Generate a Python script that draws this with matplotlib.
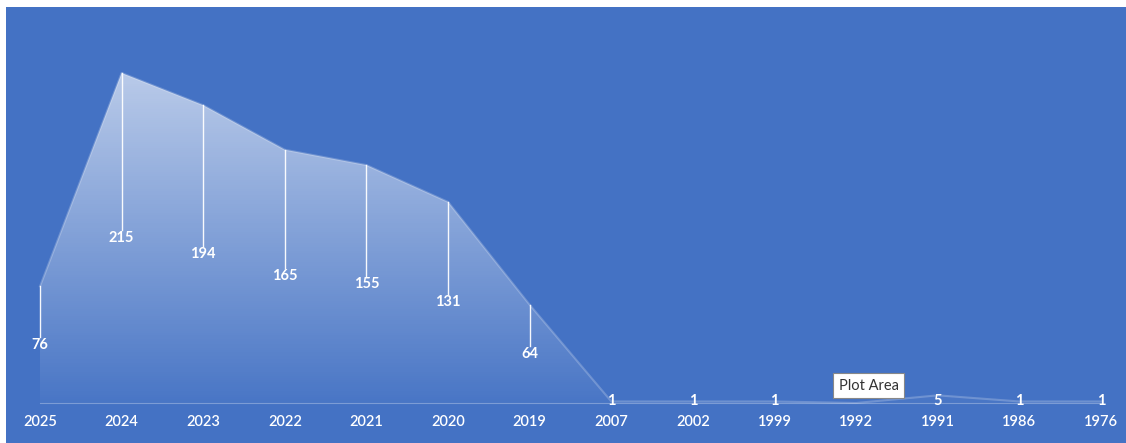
import numpy as np
import matplotlib
matplotlib.use("Agg")
import matplotlib.pyplot as plt
from matplotlib.patches import Polygon

categories = ["2025", "2024", "2023", "2022", "2021", "2020", "2019",
              "2007", "2002", "1999", "1992", "1991", "1986", "1976"]
values = [76, 215, 194, 165, 155, 131, 64, 1, 1, 1, 0, 5, 1, 1]
labels = ["76", "215", "194", "165", "155", "131", "64", "1", "1", "1", "", "5", "1", "1"]

BG = "#4472C4"
W, H = 1126, 443
fig = plt.figure(figsize=(W / 100, H / 100), dpi=100)
fig.patch.set_facecolor("white")

x0, y0 = 6, 7
ax = fig.add_axes([x0 / W, 0, 1 - x0 / W, 1 - y0 / H])
ax.set_facecolor(BG)
for s in ax.spines.values():
    s.set_visible(False)
ax.set_xticks([])
ax.set_yticks([])

n = len(categories)
x = np.arange(n)
first_px, last_px, base_px, top_px = 40, 1101, 403, 73
step = (last_px - first_px) / (n - 1)
ppu = (base_px - top_px) / max(values)

vals = np.array(values, dtype=float)

# gradient fill clipped to area polygon
ymax = vals.max()
grad = np.linspace(0.0, 1.0, 256)
rgba = np.zeros((256, 1, 4))
rgba[..., :3] = 1.0
rgba[:, 0, 3] = 0.03 + 0.60 * grad
im = ax.imshow(rgba, extent=[x[0], x[-1], 0, ymax], origin="lower",
               aspect="auto", interpolation="bicubic", zorder=1)
poly_pts = np.vstack([np.column_stack([x, vals]),
                      [[x[-1], 0], [x[0], 0]]])
poly = Polygon(poly_pts, closed=True, facecolor="none", edgecolor="none",
               transform=ax.transData)
ax.add_patch(poly)
im.set_clip_path(poly)
ax.set_xlim((x0 - first_px) / step, (W - first_px) / step)
ax.set_ylim(-(H - base_px) / ppu, (base_px - y0) / ppu)

# top edge of area
ax.plot(x, vals, color="white", alpha=0.22, lw=1.5, zorder=2)

# baseline
ax.plot([x[0], x[-1]], [0, 0], color="white", alpha=0.3, lw=0.8, zorder=2)

# drop lines and data labels
for xi, v, lab in zip(x, vals, labels):
    if v > 15:
        ax.plot([xi, xi], [v, v / 2 + 8 / ppu], color="white",
                lw=1.0, alpha=0.95, zorder=3)
    if lab:
        ypos = v / 2 if v > 15 else 2 / ppu
        ax.text(xi, ypos, lab, ha="center", va="center", color="white",
                fontsize=10.5, fontweight="bold", family="Lato", zorder=4)

# category labels
for xi, c in zip(x, categories):
    ax.annotate(c, (xi, 0), xytext=(0, -13.5), textcoords="offset points",
                ha="center", va="center", color="white", fontsize=10.5,
                family="Lato", fontweight="semibold")

# tooltip
ax.annotate("Plot Area", (x[10], 0), xytext=(9, 12.5),
            textcoords="offset points", ha="center", va="center",
            fontsize=10.5, family="Lato", color="#333333", zorder=5,
            bbox=dict(boxstyle="square,pad=0.4", facecolor="white",
                      edgecolor="#888888", lw=0.8))

fig.savefig("out.png", dpi=100, facecolor="white")
